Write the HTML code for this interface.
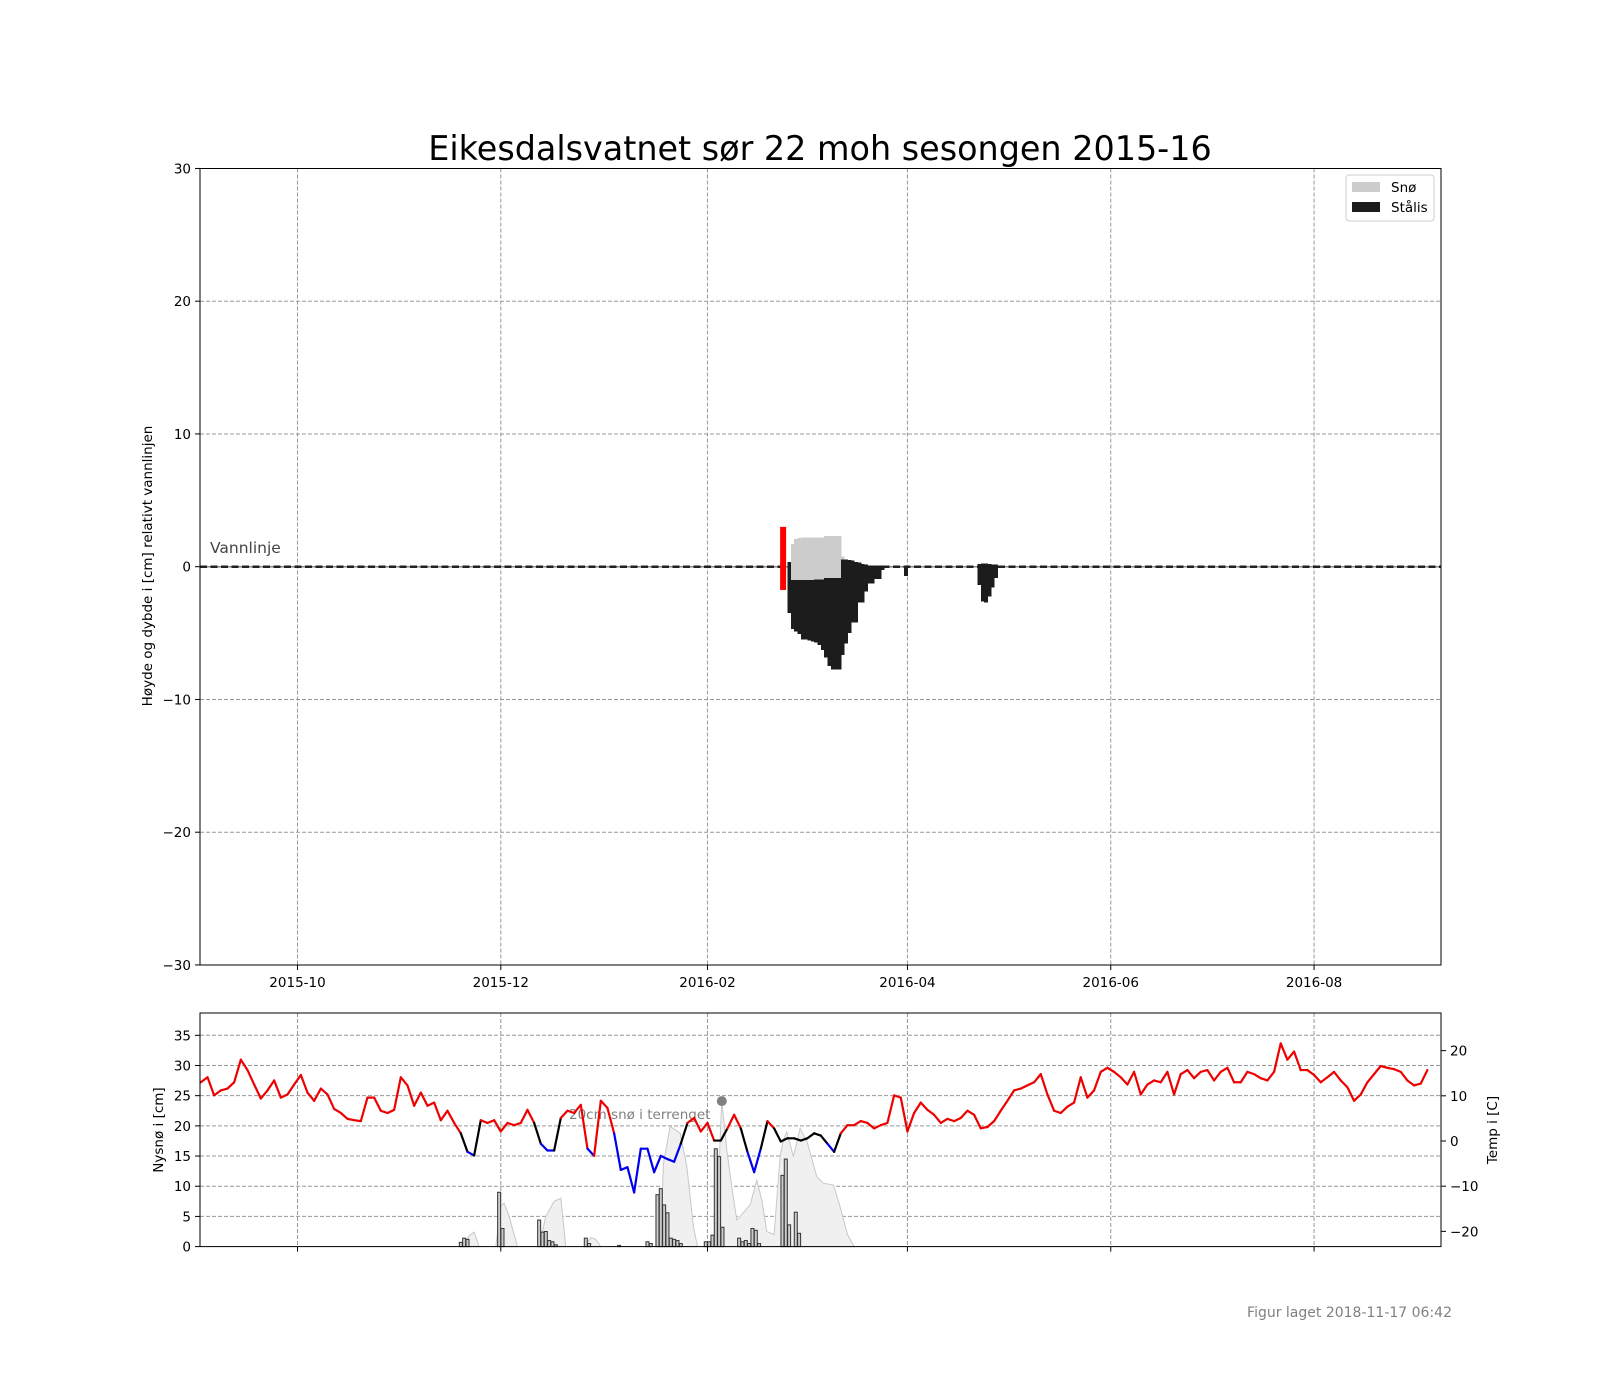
<!DOCTYPE html>
<html><head><meta charset="utf-8"><style>
html,body{margin:0;padding:0;background:#fff;}
svg{display:block;font-family:"DejaVu Sans","Liberation Sans",sans-serif;}
</style></head><body>
<svg id="chart" width="1600" height="1400" viewBox="0 0 1600 1400" xmlns="http://www.w3.org/2000/svg">
<text x="820" y="160" font-size="33.4" text-anchor="middle" fill="#000">Eikesdalsvatnet sør 22 moh sesongen 2015-16</text>
<text transform="translate(152,566) rotate(-90)" font-size="13.5" text-anchor="middle">Høyde og dybde i [cm] relativt vannlinjen</text>
<text transform="translate(163,1130) rotate(-90)" font-size="13.5" text-anchor="middle">Nysnø i [cm]</text>
<text transform="translate(1497,1130) rotate(-90)" font-size="13.5" text-anchor="middle">Temp i [C]</text>
<text x="1452" y="1317" font-size="14" text-anchor="end" fill="#808080">Figur laget 2018-11-17 06:42</text>
<g id="main"></g>
<g id="lower"></g>
</svg>
<script>
// ---- data ----
const xTickLabels = ["2015-10","2015-12","2016-02","2016-04","2016-06","2016-08"];
const xTickDays = [0, 61, 123, 183, 244, 305];
const mainYTicks = [-30,-20,-10,0,10,20,30];
const leftYTicks = [0,5,10,15,20,25,30,35];
const rightYTicks = [-20,-10,0,10,20];
// ice columns, one per day
const iceStartDay = 147;
const iceTop = [0.35,-1.0,-1.0,-1.0,-1.0,-1.0,-1.0,-1.0,-0.95,-0.95,-0.95,-0.85,-0.85,-0.85,-0.85,-0.85,0.55,0.55,0.5,0.45,0.35,0.3,0.2,0.15,0.1,0.1,0.1,0.1,0.1];
const iceBottom = [-3.5,-4.7,-4.9,-5.07,-5.47,-5.5,-5.57,-5.65,-5.72,-5.9,-6.27,-6.83,-7.48,-7.73,-7.73,-7.73,-6.65,-5.77,-5.0,-4.22,-4.2,-2.7,-2.7,-1.88,-1.25,-1.25,-0.93,-0.93,-0.25];
const snowTop = [0,1.7,2.1,2.15,2.2,2.2,2.2,2.2,2.2,2.2,2.2,2.3,2.3,2.3,2.3,2.3,0.75,0,0,0,0,0,0,0,0,0,0,0,0];
const ice2StartDay = 182;
const ice2Top = [0];
const ice2Bottom = [-0.7];
const ice3StartDay = 204;
const ice3Top = [0.2,0.25,0.25,0.2,0.15,0.15];
const ice3Bottom = [-1.38,-2.63,-2.7,-2.26,-1.56,-0.87];
const redMarkDay = 145.7;
const redMarkTop = 3.0;
const redMarkBottom = -1.75;
// temperature, every 2 days from day -29
const tempStartDay = -29;
const tempStepDays = 2;
const temps = [13.0,14.1,10.1,11.2,11.6,13.0,18.0,15.7,12.5,9.4,11.2,13.4,9.6,10.3,12.5,14.6,10.7,8.9,11.6,10.3,7.1,6.2,4.9,4.6,4.4,9.6,9.6,6.7,6.2,6.9,14.1,12.3,7.8,10.7,7.8,8.5,4.6,6.7,4.0,1.7,-2.4,-3.2,4.6,4.0,4.6,2.1,4.0,3.5,4.0,6.9,4.0,-0.6,-2.1,-2.1,5.1,6.7,6.2,8.0,-1.7,-3.3,8.9,7.3,1.7,-6.4,-5.8,-11.4,-1.7,-1.7,-6.9,-3.3,-4.0,-4.6,-0.6,4.0,5.1,2.1,4.0,0.1,0.1,2.8,5.8,2.8,-2.4,-6.9,-1.7,4.4,2.8,-0.1,0.6,0.6,0.1,0.6,1.7,1.2,-0.6,-2.4,1.7,3.5,3.5,4.4,4.0,2.8,3.5,4.0,10.1,9.6,2.1,6.2,8.5,6.9,5.8,4.0,4.9,4.4,5.1,6.7,5.8,2.8,3.1,4.4,6.7,8.9,11.2,11.6,12.3,13.0,14.8,10.3,6.7,6.2,7.6,8.5,14.1,9.6,11.2,15.3,16.2,15.3,14.1,12.5,15.3,10.3,12.5,13.4,13.0,15.3,10.3,14.8,15.7,13.9,15.3,15.7,13.4,15.3,16.2,13.0,13.0,15.3,14.8,13.9,13.4,15.3,21.6,18.0,19.8,15.7,15.7,14.6,13.0,14.1,15.3,13.4,11.9,8.9,10.3,13.0,14.8,16.6,16.2,15.9,15.3,13.4,12.3,12.7,15.7];
// new snow bars
const newSnowDays = [49,50,51,60.5,61.5,72.5,73.5,74.5,75.5,76.5,77.5,86.5,87.5,96.5,105,106,108,109,110,111,112,113,114,115,122.5,123.5,124.5,125.5,126.5,127.5,132.5,133.5,134.5,135.5,136.5,137.5,138.5,145.5,146.5,147.5,149.5,150.5];
const newSnowCm = [0.7,1.4,1.2,9.0,3.0,4.4,2.4,2.5,1.0,0.8,0.3,1.4,0.5,0.2,0.8,0.5,8.6,9.6,6.9,5.6,1.4,1.2,1.0,0.5,0.8,0.8,1.9,16.2,14.9,3.2,1.4,0.8,1.0,0.5,3.0,2.7,0.5,11.8,14.5,3.6,5.7,2.2];
// snow depth in terrain (segments separated by null)
const terrainDays = [49.5,51.5,53,54.5,null,59.5,61,62,63.5,66,null,72.5,74.5,77,79,80.5,null,86,88,89.5,91,null,108.5,109.3,109.8,111.8,114.8,116.8,118.8,120,null,125.8,126.8,127.3,128.8,130.3,131.8,135.8,137.8,139.3,140.8,143,144.8,145.8,146.8,148.8,150.8,152.8,155.8,157.8,160.8,162.8,165,167];
const terrainCm = [0,1.8,2.4,0,null,0,6.8,7.2,5,0,null,0,5,7.5,8.0,0,null,0,1.5,1.2,0,null,0,6.6,13.8,19.9,18.8,13.3,3.3,0,null,0,18,24.1,16.0,9.9,4.4,6.9,11.0,7.7,2.5,2,15,17.7,19.0,14.9,19.6,17.5,11.6,10.5,10.2,6.6,2,0];
const snowMarkerDay = 127.3;
const snowMarkerCm = 24.1;

// ---- axes ----
const L=200,R=1441,T=168.5,B=965,T2=1013,B2=1246.6;
function xs(d){return 297.5+3.333*d;}
function ys(v){return 566.7-13.275*v;}
function yl(v){return 1246.6-6.037*v;}
function yr(t){return 1141-4.518*t;}
const NS="http://www.w3.org/2000/svg";
function mk(parent,tag,attrs){const e=document.createElementNS(NS,tag);for(const k in attrs)e.setAttribute(k,attrs[k]);parent.appendChild(e);return e;}
const gm=document.getElementById('main'), gl=document.getElementById('lower');
const fmt=v=>v<0?"\u2212"+Math.abs(v):String(v);

// main grid
for(let i=0;i<mainYTicks.length;i++){const v=mainYTicks[i];
  if(v!==0&&v!==30&&v!==-30){const g=mk(gm,'line',{x1:L,x2:R,y1:ys(v),y2:ys(v),stroke:'#999',"stroke-width":1,"stroke-dasharray":"4,2"});
  
  }
  const t=mk(gm,'line',{x1:L-5,x2:L,y1:ys(v),y2:ys(v),stroke:'#000'});
  
  
  const lb=mk(gm,'text',{x:L-9,y:ys(v)+5,"font-size":13.5,"text-anchor":"end"});lb.textContent=fmt(v);
  
  
}
for(let i=0;i<xTickDays.length;i++){const x=xs(xTickDays[i]);
  const g=mk(gm,'line',{x1:x,x2:x,y1:T,y2:B,stroke:'#999',"stroke-width":1,"stroke-dasharray":"4,2"});
  
  
  const t=mk(gm,'line',{x1:x,x2:x,y1:B,y2:B+5,stroke:'#000'});
  
  
  const lb=mk(gm,'text',{x:x,y:B+22,"font-size":13.5,"text-anchor":"middle"});lb.textContent=xTickLabels[i];
  
  
  const g2=mk(gl,'line',{x1:x,x2:x,y1:T2,y2:B2,stroke:'#999',"stroke-width":1,"stroke-dasharray":"4,2"});
  
  
  const t2=mk(gl,'line',{x1:x,x2:x,y1:B2,y2:B2+5,stroke:'#000'});
  
  
}
// waterline
const wl1=mk(gm,'line',{x1:L,x2:R,y1:ys(0),y2:ys(0),stroke:'#888',"stroke-width":1.5});


const wl=mk(gm,'line',{x1:L,x2:R,y1:ys(0),y2:ys(0),stroke:'#222',"stroke-width":2.5,"stroke-dasharray":"7,3.5"});


const wlt=mk(gm,'text',{x:210,y:553,"font-size":15.5,fill:'#444'});wlt.textContent="Vannlinje";


// ice columns
function drawIce(start,tops,bots,snows){
  for(let i=0;i<tops.length;i++){const x0=xs(start+i),w=3.9;
    const r=mk(gm,'rect',{x:x0,y:ys(tops[i]),width:w,height:ys(bots[i])-ys(tops[i]),fill:'#1c1c1c',"shape-rendering":"crispEdges"});
    
    
    if(snows&&snows[i]>tops[i]){const s=mk(gm,'rect',{x:x0,y:ys(snows[i]),width:w,height:ys(tops[i])-ys(snows[i]),fill:'#cccccc',"shape-rendering":"crispEdges"});
      
      }
  }
}
drawIce(iceStartDay,iceTop,iceBottom,snowTop);
drawIce(ice2StartDay,ice2Top,ice2Bottom,null);
drawIce(ice3StartDay,ice3Top,ice3Bottom,null);
const rm=mk(gm,'rect',{x:xs(redMarkDay)-3,y:ys(redMarkTop),width:6,height:ys(redMarkBottom)-ys(redMarkTop),fill:'#ff0000'});


const mf=mk(gm,'rect',{x:L,y:T,width:R-L,height:B-T,fill:'none',stroke:'#000',"stroke-width":1});


// legend
const lg=mk(gm,'g',{});


const lbx=mk(lg,'rect',{x:1346,y:175,width:88,height:46,rx:3,fill:'#fff',stroke:'#ccc'});


const items=[["Snø","#cccccc",187],["Stålis","#1c1c1c",207]];
for(const it of items){
  const p=mk(lg,'rect',{x:1352,y:it[2]-5,width:28,height:10,fill:it[1]});
  
  
  const t=mk(lg,'text',{x:1391,y:it[2]+5,"font-size":13.5});t.textContent=it[0];
  
  
}

// lower grid + ticks
for(const v of leftYTicks){
  if(v>0){const g=mk(gl,'line',{x1:L,x2:R,y1:yl(v),y2:yl(v),stroke:'#999',"stroke-width":1,"stroke-dasharray":"4,2"});
  
  }
  const t=mk(gl,'line',{x1:L-5,x2:L,y1:yl(v),y2:yl(v),stroke:'#000'});
  
  
  const lb=mk(gl,'text',{x:L-9,y:yl(v)+5,"font-size":13.5,"text-anchor":"end"});lb.textContent=fmt(v);
  
  
}
for(const v of rightYTicks){
  const t=mk(gl,'line',{x1:R,x2:R+5,y1:yr(v),y2:yr(v),stroke:'#000'});
  
  
  const lb=mk(gl,'text',{x:R+9,y:yr(v)+5,"font-size":13.5});lb.textContent=fmt(v);
  
  
}
// terrain snow area
let seg=[];
function flush(){if(seg.length<2){seg=[];return;}
  let d="M"+xs(seg[0][0])+","+yl(0);
  for(const p of seg)d+=" L"+xs(p[0])+","+yl(p[1]);
  d+=" L"+xs(seg[seg.length-1][0])+","+yl(0)+" Z";
  const a=mk(gl,'path',{d:d,fill:'#f0f0f0',stroke:'#c8c8c8',"stroke-width":1});
  
  
  seg=[];}
for(let i=0;i<terrainDays.length;i++){if(terrainDays[i]===null)flush();else seg.push([terrainDays[i],terrainCm[i]]);}
flush();
// new snow bars
for(let i=0;i<newSnowDays.length;i++){
  const b=mk(gl,'rect',{x:xs(newSnowDays[i])-1.5,y:yl(newSnowCm[i]),width:3,height:yl(0)-yl(newSnowCm[i]),fill:'#cccccc',stroke:'#333',"stroke-width":1});
  
  
}
// annotation
const dot=mk(gl,'circle',{cx:xs(snowMarkerDay),cy:yl(snowMarkerCm),r:5,fill:'#808080'});


const an=mk(gl,'text',{x:569,y:1119,"font-size":13.5,fill:'#808080'});an.textContent="20cm snø i terrenget";


// temperature line
function tcol(t){return t>2?'#ee0000':(t<-0.5?'#0000ee':'#000000');}
for(let i=0;i<temps.length-1;i++){
  const d0=tempStartDay+i*tempStepDays,d1=d0+tempStepDays;
  const l=mk(gl,'line',{x1:xs(d0),y1:yr(temps[i]),x2:xs(d1),y2:yr(temps[i+1]),stroke:tcol((temps[i]+temps[i+1])/2),"stroke-width":2.2,"stroke-linecap":"round"});
  
  
}
const lf=mk(gl,'rect',{x:L,y:T2,width:R-L,height:B2-T2,fill:'none',stroke:'#000',"stroke-width":1});


</script>
</body></html>
